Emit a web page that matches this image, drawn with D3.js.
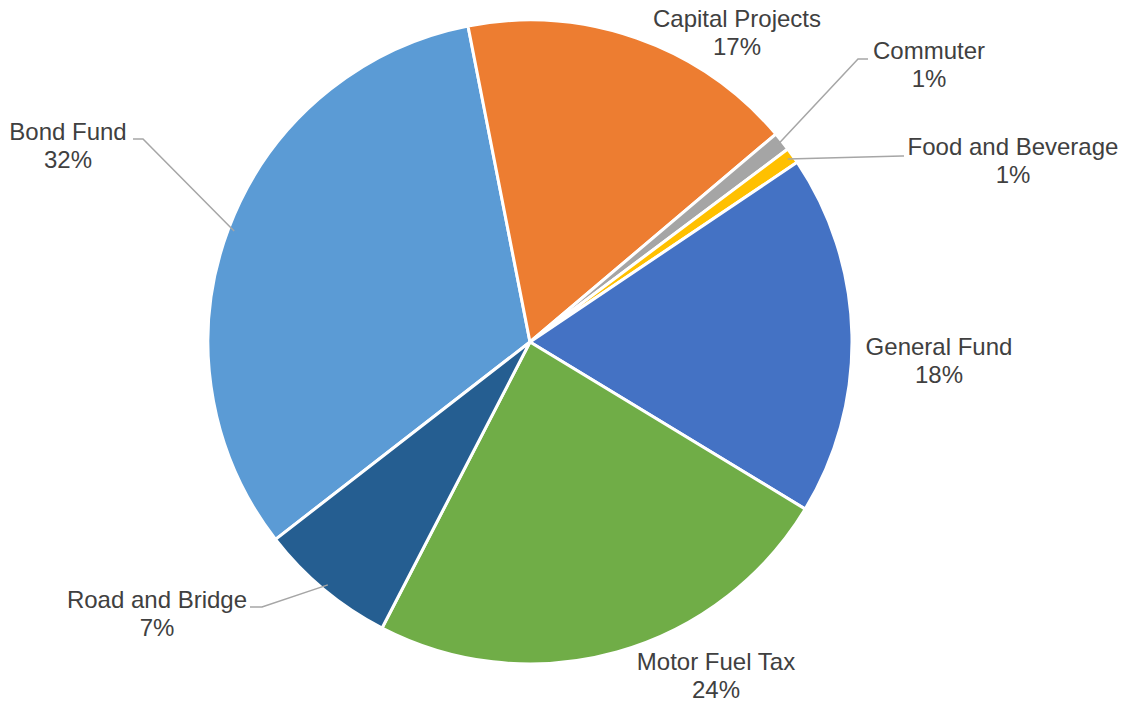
<!DOCTYPE html>
<html><head><meta charset="utf-8">
<script src="https://cdn.jsdelivr.net/npm/d3@7"></script>
<style>html,body{margin:0;padding:0;background:#fff}svg{display:block}</style>
</head><body>
<svg id="c" width="1123" height="702"></svg>
<script>
const categories = ["Bond Fund","Capital Projects","Commuter","Food and Beverage","General Fund","Motor Fuel Tax","Road and Bridge"];
const values = [32.4, 16.9, 0.95, 0.8, 18.1, 23.9, 6.9];
const colors = ["#5B9BD5","#ED7D31","#A5A5A5","#FFC000","#4472C4","#70AD47","#255E91"];
// label anchor (centre of two-line label) and leader-line elbow
const labelPos = [[68,146],[737,33],[929,65],[1013,161],[939,361],[716,676],[157,614]];
const elbows = [[143,139],null,[858,59],[902,156],null,null,[262,607]];
const labelEnds = [[133,139],null,[868,59],[904,156],null,null,[250,607]];

const svg = d3.select("#c");
const cx = 530, cy = 342, R = 322;
const start = 232.2 * Math.PI / 180;
const total = d3.sum(values);
const pie = d3.pie().sort(null).value(d => d).startAngle(start).endAngle(start + 2 * Math.PI);
const arcs = pie(values);
const arc = d3.arc().innerRadius(0).outerRadius(R);
const g = svg.append("g").attr("transform", `translate(${cx},${cy})`);
g.selectAll("path").data(arcs).join("path")
  .attr("d", arc)
  .attr("fill", (d, i) => colors[i])
  .attr("stroke", "#fff").attr("stroke-width", 3).attr("stroke-linejoin", "round");

// leader lines
arcs.forEach((d, i) => {
  if (!elbows[i]) return;
  const a = (d.startAngle + d.endAngle) / 2;
  const rr = R - 6;
  const p0 = [cx + rr * Math.sin(a), cy - rr * Math.cos(a)];
  svg.append("polyline")
    .attr("points", [p0, elbows[i], labelEnds[i]].map(p => p.join(",")).join(" "))
    .attr("fill", "none").attr("stroke", "#A6A6A6").attr("stroke-width", 1.5);
});

arcs.forEach((d, i) => {
  const [x, y] = labelPos[i];
  const t = svg.append("text")
    .attr("x", x).attr("y", y - 6)
    .attr("text-anchor", "middle")
    .attr("font-family", "Liberation Sans, Arial, sans-serif")
    .attr("font-size", 24).attr("fill", "#404040");
  t.append("tspan").attr("x", x).text(categories[i]);
  t.append("tspan").attr("x", x).attr("dy", 28).text(Math.round(values[i] / total * 100) + "%");
});
</script>
</body></html>
